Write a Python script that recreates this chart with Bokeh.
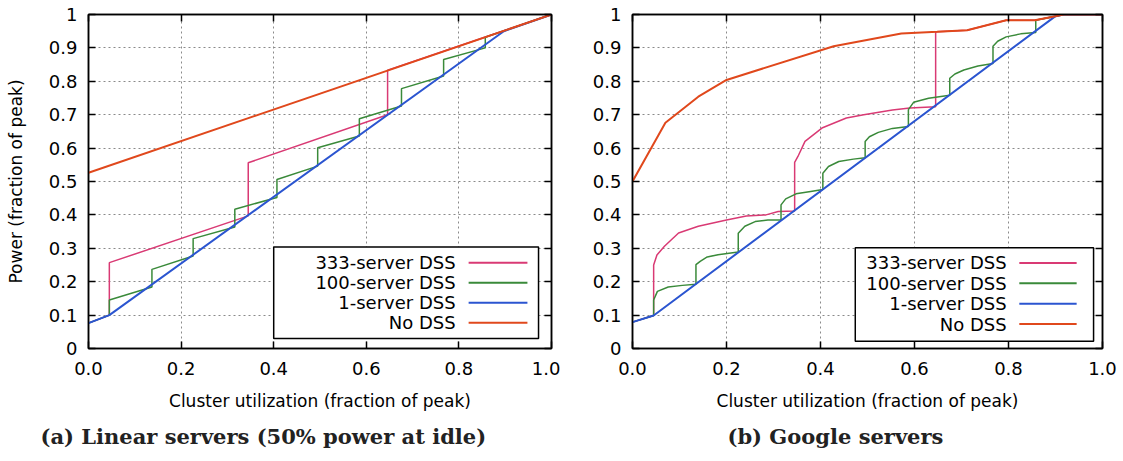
from bokeh.plotting import figure
from bokeh.layouts import row
from bokeh.models import (FixedTicker, LinearAxis, Label, BoxAnnotation, Arrow,
                          NumeralTickFormatter, Title)
from bokeh.embed import file_html
from bokeh.resources import INLINE

# ---------------- data ----------------
SERIES_NAMES = ["333-server DSS", "100-server DSS", "1-server DSS", "No DSS"]
SERIES_COLORS = ["#d93a74", "#3a8a3a", "#2b55d0", "#e0481c"]

X_TICKS = [0.0, 0.2, 0.4, 0.6, 0.8, 1.0]
X_TICK_LABELS = ["0.0", "0.2", "0.4", "0.6", "0.8", "1.0"]
Y_TICKS = [0.0, 0.1, 0.2, 0.3, 0.4, 0.5, 0.6, 0.7, 0.8, 0.9, 1.0]
Y_TICK_LABELS = ["0", "0.1", "0.2", "0.3", "0.4", "0.5", "0.6", "0.7", "0.8", "0.9", "1"]

# (a) Linear servers
LIN_333_X = [0.0, 0.045, 0.045, 0.345, 0.345, 0.646, 0.646, 1.0]
LIN_333_Y = [0.076, 0.100, 0.257, 0.397, 0.556, 0.700, 0.833, 1.0]
LIN_100_X = [0.0, 0.045, 0.045, 0.137, 0.137, 0.226, 0.226, 0.316, 0.316, 0.407, 0.407,
             0.495, 0.495, 0.585, 0.585, 0.676, 0.676, 0.767, 0.767, 0.857, 0.857, 1.0]
LIN_100_Y = [0.076, 0.100, 0.145, 0.184, 0.237, 0.277, 0.329, 0.364, 0.417, 0.452, 0.506,
             0.546, 0.601, 0.636, 0.688, 0.726, 0.778, 0.816, 0.865, 0.900, 0.932, 1.0]
LIN_1_X = [0.0, 0.045, 0.897, 1.0]
LIN_1_Y = [0.076, 0.100, 0.950, 1.0]
LIN_NO_X = [0.0, 1.0]
LIN_NO_Y = [0.526, 1.0]

# (b) Google servers
GOO_NO_X = [0.0, 0.070, 0.140, 0.200, 0.428, 0.572, 0.648, 0.712, 0.795, 0.856, 0.900, 0.917, 1.0]
GOO_NO_Y = [0.500, 0.676, 0.754, 0.804, 0.905, 0.943, 0.948, 0.953, 0.983, 0.983, 0.995, 1.0, 1.0]
GOO_1_X = [0.0, 0.045, 0.900, 0.917, 1.0]
GOO_1_Y = [0.079, 0.099, 0.995, 1.0, 1.0]
GOO_333_X = [0.0, 0.045, 0.045, 0.052, 0.068, 0.098, 0.140, 0.200, 0.242, 0.284, 0.310, 0.345,
             0.345, 0.352, 0.367, 0.403, 0.455, 0.492, 0.553, 0.590, 0.645,
             0.645, 0.648, 0.712, 0.795, 0.856, 0.900, 0.917, 1.0]
GOO_333_Y = [0.079, 0.099, 0.250, 0.280, 0.306, 0.346, 0.366, 0.385, 0.397, 0.400, 0.410, 0.412,
             0.557, 0.575, 0.620, 0.660, 0.690, 0.700, 0.714, 0.720, 0.724,
             0.947, 0.948, 0.953, 0.983, 0.983, 0.995, 1.0, 1.0]
GOO_100_X = [0.0, 0.045, 0.045, 0.053, 0.076, 0.106, 0.135,
             0.135, 0.144, 0.159, 0.182, 0.225,
             0.225, 0.239, 0.261, 0.288, 0.316,
             0.316, 0.326, 0.348, 0.379, 0.405,
             0.405, 0.417, 0.439, 0.470, 0.495,
             0.495, 0.504, 0.523, 0.553, 0.587,
             0.587, 0.598, 0.630, 0.675,
             0.675, 0.686, 0.705, 0.735, 0.767,
             0.767, 0.777, 0.795, 0.826, 0.858,
             0.858, 0.900, 0.917, 1.0]
GOO_100_Y = [0.079, 0.099, 0.145, 0.171, 0.184, 0.189, 0.192,
             0.251, 0.261, 0.274, 0.281, 0.289,
             0.345, 0.366, 0.380, 0.385, 0.385,
             0.430, 0.448, 0.463, 0.470, 0.476,
             0.525, 0.545, 0.560, 0.567, 0.571,
             0.620, 0.634, 0.647, 0.659, 0.665,
             0.715, 0.737, 0.749, 0.758,
             0.809, 0.822, 0.834, 0.846, 0.853,
             0.905, 0.920, 0.933, 0.942, 0.946,
             0.983, 0.995, 1.0, 1.0]

PANEL_A = [(LIN_333_X, LIN_333_Y), (LIN_100_X, LIN_100_Y), (LIN_1_X, LIN_1_Y), (LIN_NO_X, LIN_NO_Y)]
PANEL_B = [(GOO_333_X, GOO_333_Y), (GOO_100_X, GOO_100_Y), (GOO_1_X, GOO_1_Y), (GOO_NO_X, GOO_NO_Y)]

LINE_WIDTHS = [1.5, 1.5, 2.0, 2.0]

SANS = "DejaVu Sans"
SERIF = "DejaVu Serif"


def make_panel(series, width, borders, ylabel, legend_geom, caption, caption_offset):
    left, right, top, bottom = borders
    p = figure(width=width, height=461, x_range=(0, 1), y_range=(0, 1),
               output_backend="svg", toolbar_location=None,
               min_border_left=left, min_border_right=right,
               min_border_top=top, min_border_bottom=bottom,
               background_fill_color="white", border_fill_color="white")
    p.outline_line_color = "black"
    p.outline_line_width = 1.5
    p.outline_line_alpha = 1.0

    for ax in p.xaxis:
        ax.ticker = FixedTicker(ticks=X_TICKS)
        ax.formatter = NumeralTickFormatter(format="0.0")
        ax.major_label_overrides = dict(zip(X_TICKS, X_TICK_LABELS))
        ax.axis_label = "Cluster utilization (fraction of peak)"
        ax.axis_label_standoff = 13
    for ax in p.yaxis:
        ax.ticker = FixedTicker(ticks=Y_TICKS)
        ax.formatter = NumeralTickFormatter(format="0.[0]")
        ax.major_label_overrides = dict(zip(Y_TICKS, Y_TICK_LABELS))
        if ylabel:
            ax.axis_label = ylabel
            ax.axis_label_standoff = 20
    for ax in list(p.xaxis) + list(p.yaxis):
        ax.major_tick_in = 7
        ax.major_tick_out = 0
        ax.minor_tick_line_color = None
        ax.major_tick_line_width = 1.5
        ax.axis_line_width = 1.5
        ax.axis_line_color = "black"
        ax.major_label_text_font = SANS
        ax.major_label_text_font_size = "18px"
        ax.major_label_text_color = "black"
        ax.axis_label_text_font = SANS
        ax.axis_label_text_font_size = "17px"
        ax.axis_label_text_font_style = "normal"
        ax.axis_label_text_color = "black"
    p.xaxis.major_label_standoff = 13
    p.yaxis.major_label_standoff = 11

    # mirrored tick marks on top and right
    top_ax = LinearAxis(ticker=FixedTicker(ticks=X_TICKS),
                        major_label_overrides={t: "" for t in X_TICKS})
    right_ax = LinearAxis(ticker=FixedTicker(ticks=Y_TICKS),
                          major_label_overrides={t: "" for t in Y_TICKS})
    for ax in (top_ax, right_ax):
        ax.major_tick_in = 7
        ax.major_tick_out = 0
        ax.major_tick_line_width = 1.5
        ax.minor_tick_line_color = None
        ax.axis_line_width = 1.5
        ax.major_label_standoff = 0
        ax.major_label_text_font_size = "1px"
    p.add_layout(top_ax, "above")
    p.add_layout(right_ax, "right")

    for g in (p.xgrid, p.ygrid):
        g.grid_line_color = "#8a8a8a"
        g.grid_line_dash = "2 3"
        g.grid_line_width = 1
    p.xgrid.ticker = FixedTicker(ticks=X_TICKS)
    p.ygrid.ticker = FixedTicker(ticks=Y_TICKS)

    for (xs, ys), color, lw in zip(series, SERIES_COLORS, LINE_WIDTHS):
        p.line(xs, ys, line_color=color, line_width=lw)

    # legend (gnuplot style: label then sample)
    g = legend_geom
    p.add_layout(BoxAnnotation(left=g["left"], right=g["right"], bottom=g["bottom"], top=g["top"],
                               fill_color="white", fill_alpha=1.0,
                               line_color="black", line_width=1.5, line_alpha=1.0))
    for i, (name, color) in enumerate(zip(SERIES_NAMES, SERIES_COLORS)):
        yy = g["row0"] - i * g["row_step"]
        p.add_layout(Label(x=g["text_x"], y=yy, text=name, text_align="right",
                           text_baseline="middle", text_font=SANS, text_font_size="18px",
                           text_color="black"))
        p.add_layout(Arrow(x_start=g["line_x0"], y_start=yy, x_end=g["line_x1"], y_end=yy,
                           start=None, end=None, line_color=color, line_width=2))

    p.add_layout(Title(text=caption, align="left", offset=caption_offset, standoff=16,
                       text_font=SERIF, text_font_style="bold", text_font_size="21px",
                       text_color="#222222"), "below")
    return p


legend_a = dict(left=0.40, right=0.972, bottom=0.03, top=0.304,
                text_x=0.793, line_x0=0.821, line_x1=0.948, row0=0.257, row_step=0.06)
legend_b = dict(left=0.474, right=0.981, bottom=0.022, top=0.302,
                text_x=0.796, line_x0=0.823, line_x1=0.945, row0=0.256, row_step=0.061)

p1 = make_panel(PANEL_A, 560, (88, 9, 13, 113), "Power (fraction of peak)", legend_a,
                "(a) Linear servers (50% power at idle)", -48)
p2 = make_panel(PANEL_B, 563, (72, 21, 14, 113), None, legend_b,
                "(b) Google servers", 95)

layout = row(p1, p2)
open("out.html", "w").write(file_html(layout, INLINE))
